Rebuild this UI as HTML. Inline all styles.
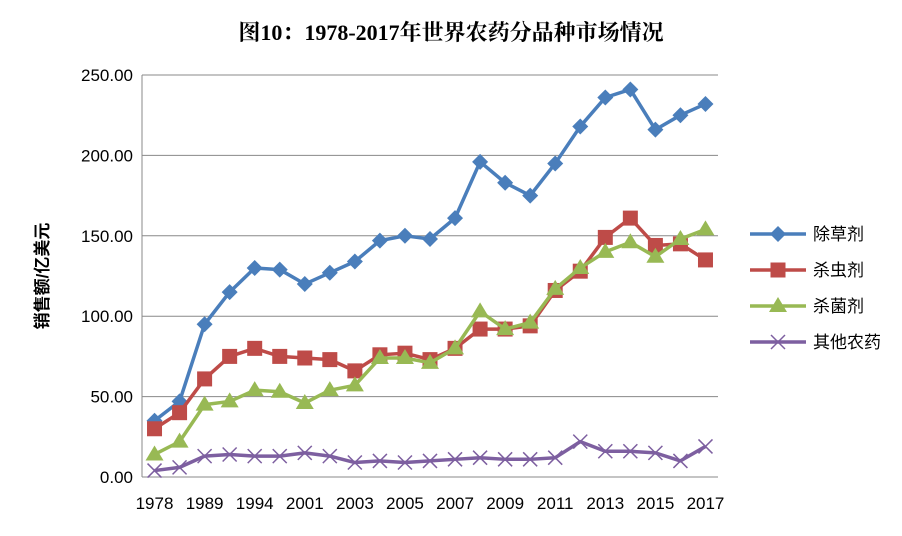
<!DOCTYPE html>
<html><head><meta charset="utf-8"><style>
body{margin:0;background:#fff;}
svg text{font-family:"Liberation Sans","Noto Sans CJK SC",sans-serif;}
</style></head><body>
<svg width="902" height="531" xmlns="http://www.w3.org/2000/svg">
<rect width="902" height="531" fill="#fff"/>
<text x="451" y="40" text-anchor="middle" font-size="22" font-weight="bold" style="font-family:'Liberation Serif','Noto Serif CJK SC',serif">图10：1978-2017年世界农药分品种市场情况</text>
<g id="grid"></g><g id="axes"></g><g id="series"></g>
<text transform="translate(48,276) rotate(-90)" text-anchor="middle" font-size="17" font-weight="bold">销售额/亿美元</text>
<g id="legend"></g>
</svg>
<script>
const categories=["1978","1983","1989","1991","1994","1998","2001","2002","2003","2004","2005","2006","2007","2008","2009","2010","2011","2012","2013","2014","2015","2016","2017"];
const shownLabels=["1978","1989","1994","2001","2003","2005","2007","2009","2011","2013","2015","2017"];
const yTicks=[0,50,100,150,200,250];
const herbicide=[35,47,95,115,130,129,120,127,134,147,150,148,161,196,183,175,195,218,236,241,216,225,232];
const insecticide=[30,40,61,75,80,75,74,73,66,76,77,73,80,92,92,94,116,128,149,161,144,145,135];
const fungicide=[14,22,45,47,54,53,46,54,57,74,74,71,80,103,92,96,117,130,140,146,137,148,154];
const others=[4,6,13,14,13,13,15,13,9,10,9,10,11,12,11,11,12,22,16,16,15,10,19];
const seriesNames=["除草剂","杀虫剂","杀菌剂","其他农药"];
const NS="http://www.w3.org/2000/svg";
const L=142,R=718,T=75,B=477,step=(R-L)/categories.length;
const x=i=>L+step*(i+0.5);
const y=v=>B-(v/250)*(B-T);
function mk(tag,attrs,parent){const e=document.createElementNS(NS,tag);for(const k in attrs)e.setAttribute(k,attrs[k]);document.getElementById(parent).appendChild(e);return e;}
yTicks.forEach(t=>{
  const g=mk('line',{x1:L,x2:R,y1:y(t),y2:y(t),stroke:'#888','stroke-width':1},'grid');
  
  
  const tx=mk('text',{x:L-9,y:y(t)+6,'text-anchor':'end','font-size':17},'axes');tx.textContent=t.toFixed(2);
  
  
});
const ax=mk('line',{x1:L,x2:L,y1:T,y2:B,stroke:'#888'},'axes');


categories.forEach((c,i)=>{ if(shownLabels.includes(c)){
  const tx=mk('text',{x:x(i),y:B+32,'text-anchor':'middle','font-size':17},'axes');tx.textContent=c;
  
  
}});
const cols=['#4a7ebb','#be4b48','#98b954','#7d5fa0'];
const data=[herbicide,insecticide,fungicide,others];
function marker(k,cx,cy,parent){
  let e;
  if(k===0)e=mk('path',{d:`M${cx},${cy-8}L${cx+8},${cy}L${cx},${cy+8}L${cx-8},${cy}Z`,fill:cols[0]},parent);
  else if(k===1)e=mk('rect',{x:cx-7.5,y:cy-7.5,width:15,height:15,fill:cols[1]},parent);
  else if(k===2)e=mk('path',{d:`M${cx},${cy-9}L${cx+9},${cy+6}L${cx-9},${cy+6}Z`,fill:cols[2]},parent);
  else e=mk('path',{d:`M${cx-7},${cy-7}L${cx+7},${cy+7}M${cx-7},${cy+7}L${cx+7},${cy-7}`,stroke:cols[3],'stroke-width':1.5},parent);
  return e;
}
data.forEach((d,k)=>{
  const p=mk('polyline',{points:d.map((v,i)=>x(i)+','+y(v)).join(' '),fill:'none',stroke:cols[k],'stroke-width':3.5,'stroke-linejoin':'round'},'series');
  
  
  d.forEach((v,i)=>{const m=marker(k,x(i),y(v),'series');
    
    });
  const ly=234+k*36;
  const ll=mk('line',{x1:750,x2:806,y1:ly,y2:ly,stroke:cols[k],'stroke-width':3.5},'legend');
  
  
  const lm=marker(k,778,ly,'legend');
  
  
  const lt=mk('text',{x:813,y:ly+6,'font-size':17},'legend');lt.textContent=seriesNames[k];
  
  
});
</script>
</body></html>
